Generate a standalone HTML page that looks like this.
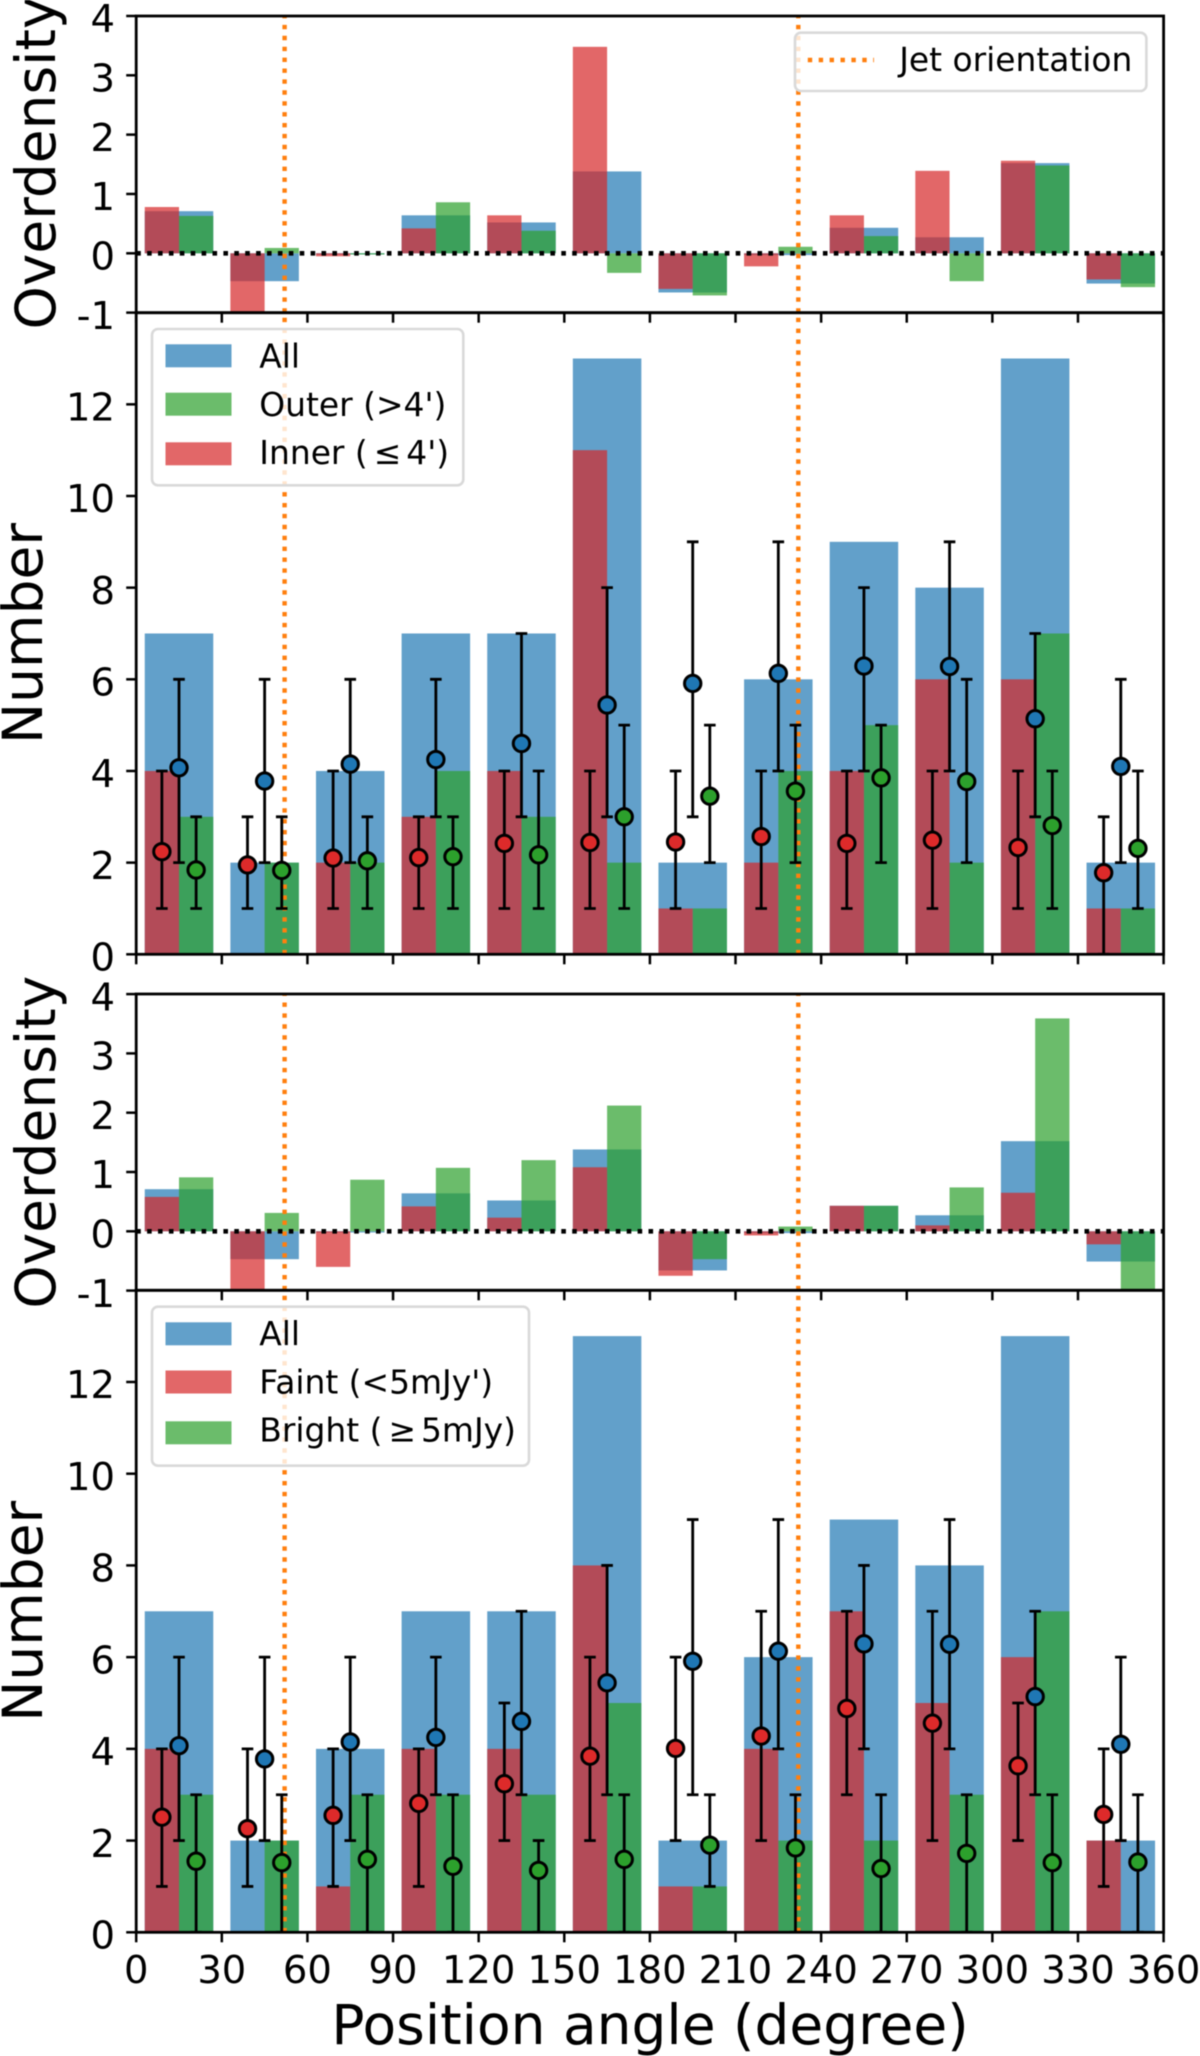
<!DOCTYPE html>
<html lang="en">
<head>
<meta charset="utf-8">
<title>Overdensity and number by position angle</title>
<style>
html,body{margin:0;padding:0;background:#fff;}
svg{display:block;font-family:"DejaVu Sans","Liberation Sans",sans-serif;filter:blur(0.4px);}
</style>
</head>
<body>
<svg id="figure" xmlns="http://www.w3.org/2000/svg" width="1200" height="2056" viewBox="0 0 1200 2056">
  <defs>
    <clipPath id="clip-a"><rect x="136.2" y="16" width="1027.4" height="296.7"/></clipPath>
    <clipPath id="clip-b"><rect x="136.2" y="312.7" width="1027.4" height="641.6"/></clipPath>
    <clipPath id="clip-c"><rect x="136.2" y="994" width="1027.4" height="296.3"/></clipPath>
    <clipPath id="clip-d"><rect x="136.2" y="1290.3" width="1027.4" height="642"/></clipPath>
  </defs>
  <rect x="0" y="0" width="1200" height="2056" fill="#fff"/>
  <g id="marks-a" clip-path="url(#clip-a)"></g>
  <g id="marks-b" clip-path="url(#clip-b)"></g>
  <g id="marks-c" clip-path="url(#clip-c)"></g>
  <g id="marks-d" clip-path="url(#clip-d)"></g>
  <g id="axes"></g>

  <g>
    <rect x="795" y="32.7" width="351.4" height="58.3" rx="6" fill="#fff" fill-opacity="0.8" stroke="#d9d9d9" stroke-width="2.6"/>
    <line x1="807.8" y1="60" x2="874" y2="60" stroke="#ff7f0e" stroke-width="4.4" stroke-dasharray="4.4 6.5"/>
    <text x="899.2" y="71" font-size="32.9" fill="#000">Jet orientation</text>
  </g>

  <g>
    <rect x="152" y="329" width="311.3" height="156.3" rx="6" fill="#fff" fill-opacity="0.8" stroke="#d9d9d9" stroke-width="2.6"/>
    <rect x="165.5" y="344.3" width="66" height="23" fill="#1f77b4" fill-opacity="0.7"/>
    <text x="259.3" y="367.5" font-size="32.9">All</text>
    <rect x="165.5" y="392.7" width="66" height="23" fill="#2ca02c" fill-opacity="0.7"/>
    <text x="259.3" y="416" font-size="32.9">Outer (&gt;4')</text>
    <rect x="165.5" y="442.3" width="66" height="23" fill="#d62728" fill-opacity="0.7"/>
    <text x="259.3" y="464" font-size="32.9">Inner (<tspan dx="6">≤</tspan><tspan dx="5">4')</tspan></text>
  </g>

  <g>
    <rect x="152" y="1306.7" width="377" height="159" rx="6" fill="#fff" fill-opacity="0.8" stroke="#d9d9d9" stroke-width="2.6"/>
    <rect x="165.5" y="1322.3" width="66" height="23" fill="#1f77b4" fill-opacity="0.7"/>
    <text x="259.3" y="1345" font-size="32.9">All</text>
    <rect x="165.5" y="1370.5" width="66" height="23" fill="#d62728" fill-opacity="0.7"/>
    <text x="259.3" y="1393.5" font-size="32.9">Faint (&lt;5mJy')</text>
    <rect x="165.5" y="1421.3" width="66" height="23" fill="#2ca02c" fill-opacity="0.7"/>
    <text x="259.3" y="1441.7" font-size="32.9">Bright (<tspan dx="6">≥</tspan><tspan dx="5">5mJy)</tspan></text>
  </g>

  <text transform="translate(55,163) rotate(-90)" text-anchor="middle" font-size="55">Overdensity</text>
  <text transform="translate(42,633.5) rotate(-90)" text-anchor="middle" font-size="55">Number</text>
  <text transform="translate(55,1142.2) rotate(-90)" text-anchor="middle" font-size="55">Overdensity</text>
  <text transform="translate(42,1611.3) rotate(-90)" text-anchor="middle" font-size="55">Number</text>
  <text x="650" y="2044" text-anchor="middle" font-size="55">Position angle (degree)</text>
</svg>

<script>
// ---- data ----
const binCenters = [15, 45, 75, 105, 135, 165, 195, 225, 255, 285, 315, 345];
const xTickLabels = [0, 30, 60, 90, 120, 150, 180, 210, 240, 270, 300, 330, 360];
const overdensityTicks = [-1, 0, 1, 2, 3, 4];
const numberTicks = [0, 2, 4, 6, 8, 10, 12];
const jetAngles = [52, 232];

const allCounts = [7, 2, 4, 7, 7, 13, 2, 6, 9, 8, 13, 2];
const innerCounts = [4, 0, 2, 3, 4, 11, 1, 2, 4, 6, 6, 1];
const outerCounts = [3, 2, 2, 4, 3, 2, 1, 4, 5, 2, 7, 1];
const faintCounts = [4, 0, 1, 4, 4, 8, 1, 4, 7, 5, 6, 2];
const brightCounts = [3, 2, 3, 3, 3, 5, 1, 2, 2, 3, 7, 0];

const allOverdensity = [0.71, -0.47, -0.02, 0.64, 0.52, 1.38, -0.66, -0.03, 0.43, 0.27, 1.52, -0.51];
const innerOverdensity = [0.78, -1.05, -0.05, 0.42, 0.64, 3.48, -0.6, -0.22, 0.64, 1.39, 1.56, -0.44];
const outerOverdensity = [0.63, 0.09, -0.02, 0.86, 0.38, -0.33, -0.71, 0.11, 0.29, -0.47, 1.48, -0.57];
const faintOverdensity = [0.58, -1.05, -0.6, 0.42, 0.23, 1.08, -0.75, -0.07, 0.43, 0.1, 0.65, -0.22];
const brightOverdensity = [0.91, 0.31, 0.87, 1.07, 1.2, 2.12, -0.47, 0.08, 0.43, 0.74, 3.59, -1.05];

const allMean = [4.07, 3.78, 4.15, 4.25, 4.6, 5.44, 5.91, 6.13, 6.29, 6.28, 5.14, 4.1];
const allLow = [2, 2, 2, 3, 3, 3, 3, 4, 4, 4, 3, 2];
const allHigh = [6, 6, 6, 6, 7, 8, 9, 9, 8, 9, 7, 6];

const innerMean = [2.24, 1.95, 2.1, 2.11, 2.42, 2.44, 2.45, 2.57, 2.42, 2.49, 2.33, 1.78];
const innerLow = [1, 1, 1, 1, 1, 1, 1, 1, 1, 1, 1, 0];
const innerHigh = [4, 3, 4, 3, 4, 4, 4, 4, 4, 4, 4, 3];

const outerMean = [1.84, 1.83, 2.04, 2.13, 2.17, 3.0, 3.45, 3.56, 3.85, 3.77, 2.81, 2.31];
const outerLow = [1, 1, 1, 1, 1, 1, 2, 2, 2, 2, 1, 1];
const outerHigh = [3, 3, 3, 3, 4, 5, 5, 5, 5, 6, 4, 4];

const faintMean = [2.51, 2.26, 2.55, 2.81, 3.24, 3.84, 4.01, 4.28, 4.88, 4.56, 3.63, 2.57];
const faintLow = [1, 1, 1, 1, 2, 2, 2, 2, 3, 2, 2, 1];
const faintHigh = [4, 4, 4, 4, 5, 6, 6, 7, 7, 7, 5, 4];

const brightMean = [1.55, 1.52, 1.59, 1.44, 1.35, 1.59, 1.9, 1.84, 1.39, 1.72, 1.52, 1.53];
const brightLow = [0, 0, 0, 0, 0, 0, 1, 0, 0, 0, 0, 0];
const brightHigh = [3, 3, 3, 3, 2, 3, 3, 3, 3, 3, 3, 3];

// ---- scales ----
const NS = 'http://www.w3.org/2000/svg';
const xLeft = 136.2, xRight = 1163.6;
const x = d => xLeft + (d / 360) * (xRight - xLeft);
const linearY = (zero, unit) => v => zero - v * unit;
const yA = linearY(253.3, 59.33);
const yB = linearY(954.3, 45.83);
const yC = linearY(1231.3, 59.3);
const yD = linearY(1932.3, 45.86);

const BLUE = '#1f77b4', RED = '#d62728', GREEN = '#2ca02c';
const DOT_BLUE = '#1f77b4', DOT_RED = '#dd2a2a', DOT_GREEN = '#2ca02c';

function make(tag, attrs, parent) {
  const node = document.createElementNS(NS, tag);
  for (const k in attrs) node.setAttribute(k, attrs[k]);
  parent.appendChild(node);
  return node;
}

function drawBars(group, y, values, offset, width, color, label) {
  values.forEach((v, i) => {
    if (v === 0) return;
    const left = binCenters[i] + offset;
    const y0 = y(0), y1 = y(v);
    const el = make('rect', {
      x: x(left), y: Math.min(y0, y1), width: x(left + width) - x(left), height: Math.abs(y1 - y0),
      fill: color, 'fill-opacity': 0.7
    }, group);
    
    
  });
}

function drawPoints(group, y, means, lows, highs, offset, color, label) {
  means.forEach((m, i) => {
    const cx = x(binCenters[i] + offset);
    const g = make('g', {}, group);
    
    
    const line = { stroke: '#000', 'stroke-width': 2.8 };
    make('line', Object.assign({ x1: cx, x2: cx, y1: y(lows[i]), y2: y(highs[i]) }, line), g);
    make('line', Object.assign({ x1: cx - 5.8, x2: cx + 5.8, y1: y(lows[i]), y2: y(lows[i]) }, line), g);
    make('line', Object.assign({ x1: cx - 5.8, x2: cx + 5.8, y1: y(highs[i]), y2: y(highs[i]) }, line), g);
    make('circle', { cx: cx, cy: y(m), r: 8.2, fill: color, stroke: '#000', 'stroke-width': 3 }, g);
  });
}

function drawJet(group, y0, y1, label) {
  jetAngles.forEach(a => {
    const el = make('line', {
      x1: x(a), x2: x(a), y1: y0, y2: y1,
      stroke: '#ff7f0e', 'stroke-width': 4.4, 'stroke-dasharray': '4.4 6.5'
    }, group);
    
    
  });
}

function drawZero(group, y, label) {
  const el = make('line', {
    x1: xLeft, x2: xRight, y1: y(0), y2: y(0),
    stroke: '#000', 'stroke-width': 4.6, 'stroke-dasharray': '4.6 6.3'
  }, group);
  
  
}

function drawAxes(y, ticks, top, bottom, label, showXLabels) {
  const axes = document.getElementById('axes');
  const g = make('g', {}, axes);
  
  
  const frame = make('rect', {
    x: xLeft, y: top, width: xRight - xLeft, height: bottom - top,
    fill: 'none', stroke: '#000', 'stroke-width': 2.8
  }, g);
  
  
  ticks.forEach(t => {
    const tick = make('line', {
      x1: xLeft - 10, x2: xLeft, y1: y(t), y2: y(t), stroke: '#000', 'stroke-width': 2.5
    }, g);
    
    
    const txt = make('text', { x: 115, y: y(t) + 16.2, 'text-anchor': 'end', 'font-size': 38.5 }, g);
    txt.textContent = String(t);
    
    
  });
  xTickLabels.forEach(t => {
    const tick = make('line', {
      x1: x(t), x2: x(t), y1: bottom, y2: bottom + 10, stroke: '#000', 'stroke-width': 2.5
    }, g);
    
    
    if (showXLabels) {
      const txt = make('text', { x: x(t), y: 1983, 'text-anchor': 'middle', 'font-size': 38.5 }, g);
      txt.textContent = String(t);
      
      
    }
  });
}

const gA = document.getElementById('marks-a');
const gB = document.getElementById('marks-b');
const gC = document.getElementById('marks-c');
const gD = document.getElementById('marks-d');

// panel A: overdensity by radius
drawBars(gA, yA, allOverdensity, -12, 24, BLUE, 'all');
drawBars(gA, yA, outerOverdensity, 0, 12, GREEN, 'outer');
drawBars(gA, yA, innerOverdensity, -12, 12, RED, 'inner');
drawZero(gA, yA, 'radius');
drawJet(gA, 312.7, 16, 'a');

// panel B: number by radius
drawBars(gB, yB, allCounts, -12, 24, BLUE, 'all');
drawBars(gB, yB, outerCounts, 0, 12, GREEN, 'outer');
drawBars(gB, yB, innerCounts, -12, 12, RED, 'inner');
drawJet(gB, 954.3, 312.7, 'b');
drawPoints(gB, yB, allMean, allLow, allHigh, 0, DOT_BLUE, 'all');
drawPoints(gB, yB, innerMean, innerLow, innerHigh, -6, DOT_RED, 'inner');
drawPoints(gB, yB, outerMean, outerLow, outerHigh, 6, DOT_GREEN, 'outer');

// panel C: overdensity by flux
drawBars(gC, yC, allOverdensity, -12, 24, BLUE, 'all');
drawBars(gC, yC, brightOverdensity, 0, 12, GREEN, 'bright');
drawBars(gC, yC, faintOverdensity, -12, 12, RED, 'faint');
drawZero(gC, yC, 'flux');
drawJet(gC, 1290.3, 994, 'c');

// panel D: number by flux
drawBars(gD, yD, allCounts, -12, 24, BLUE, 'all');
drawBars(gD, yD, brightCounts, 0, 12, GREEN, 'bright');
drawBars(gD, yD, faintCounts, -12, 12, RED, 'faint');
drawJet(gD, 1932.3, 1290.3, 'd');
drawPoints(gD, yD, allMean, allLow, allHigh, 0, DOT_BLUE, 'all');
drawPoints(gD, yD, faintMean, faintLow, faintHigh, -6, DOT_RED, 'faint');
drawPoints(gD, yD, brightMean, brightLow, brightHigh, 6, DOT_GREEN, 'bright');

drawAxes(yA, overdensityTicks, 16, 312.7, 'overdensity-radius', false);
drawAxes(yB, numberTicks, 312.7, 954.3, 'number-radius', false);
drawAxes(yC, overdensityTicks, 994, 1290.3, 'overdensity-flux', false);
drawAxes(yD, numberTicks, 1290.3, 1932.3, 'number-flux', true);
</script>
</body>
</html>
